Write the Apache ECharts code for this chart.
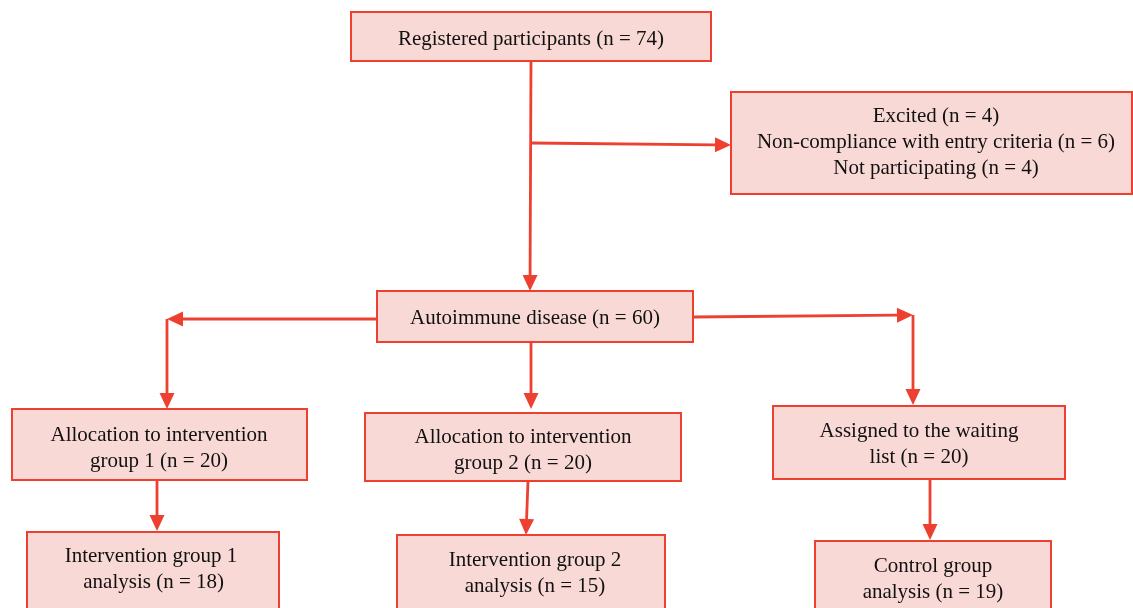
<!DOCTYPE html>
<html>
<head>
<meta charset="utf-8">
<script src="https://cdn.jsdelivr.net/npm/echarts@6/dist/echarts.min.js"></script>
<style>
  html, body { margin: 0; padding: 0; background: #fff; }
  #chart { width: 1133px; height: 608px; }
</style>
</head>
<body>
<div id="chart"></div>
<script>
// flow stages and counts
const stageNames = [
  'Registered participants',
  'Autoimmune disease',
  'Allocation to intervention\ngroup 1',
  'Allocation to intervention\ngroup 2',
  'Assigned to the waiting\nlist',
  'Intervention group 1\n analysis',
  'Intervention group 2\nanalysis',
  'Control group\nanalysis'
];
const stageCounts = [74, 60, 20, 20, 20, 18, 15, 19];

const exclusionReasons = ['Excited', 'Non-compliance with entry criteria', 'Not participating'];
const exclusionCounts = [4, 6, 4];

// layout (page units): box x0, y0, x1, y1, text cx, text cy
const boxLayout = [
  [351, 12, 711, 61, 531, 39],
  [377, 291, 693, 342, 535, 318],
  [12, 409, 307, 480, 159, 448],
  [365, 413, 681, 481, 523, 450],
  [773, 406, 1065, 479, 919, 444],
  [27, 532, 279, 620, 151, 569],
  [397, 535, 665, 620, 535, 573],
  [815, 541, 1051, 620, 933, 579]
];
const exclusionLayout = [731, 92, 1132, 194, 936, 142];

// connectors, each ends with an arrow
const connectors = [
  [[531, 61], [530, 291]],
  [[531, 143], [731, 145]],
  [[377, 319], [167, 319]],
  [[167, 319], [167, 409]],
  [[531, 342], [531, 409]],
  [[693, 317], [913, 315]],
  [[913, 315], [913, 405]],
  [[157, 481], [157, 531]],
  [[528, 481], [526, 535]],
  [[930, 479], [930, 540]]
];

const red = '#ee4030';
const pink = '#f9d9d5';
const font = '21px "Liberation Serif", "DejaVu Serif", serif';

const boxTexts = stageNames.map((s, i) => s + ' (n = ' + stageCounts[i] + ')');
const exclusionText = exclusionReasons.map((r, i) => r + ' (n = ' + exclusionCounts[i] + ')').join('\n');

const allBoxes = boxLayout.concat([exclusionLayout]);
const allTexts = boxTexts.concat([exclusionText]);

const chart = echarts.init(document.getElementById('chart'));

chart.setOption({
  animation: false,
  grid: { left: 0, right: 0, top: 0, bottom: 0 },
  xAxis: { type: 'value', min: 0, max: 1133, show: false },
  yAxis: { type: 'value', min: 0, max: 608, inverse: true, show: false },
  series: [
    {
      type: 'custom',
      coordinateSystem: 'cartesian2d',
      data: connectors.map((c, i) => [c[0][0], c[0][1], i]),
      renderItem: (params, api) => {
        const pts = connectors[params.dataIndex].map(p => api.coord(p));
        const a = pts[pts.length - 2];
        const b = pts[pts.length - 1];
        const ang = Math.atan2(b[1] - a[1], b[0] - a[0]);
        const len = 16, half = 7.5;
        const bx = b[0] - len * Math.cos(ang), by = b[1] - len * Math.sin(ang);
        const nx = -Math.sin(ang) * half, ny = Math.cos(ang) * half;
        const linePts = pts.slice(0, -1).concat([[bx, by]]);
        return {
          type: 'group',
          children: [
            { type: 'polyline', shape: { points: linePts }, style: { stroke: red, lineWidth: 2.8, fill: null } },
            { type: 'polygon', shape: { points: [b, [bx + nx, by + ny], [bx - nx, by - ny]] }, style: { fill: red } }
          ]
        };
      },
      z: 1
    },
    {
      type: 'custom',
      coordinateSystem: 'cartesian2d',
      data: allBoxes.map((b, i) => [b[0], b[1], i]),
      renderItem: (params, api) => {
        const b = allBoxes[params.dataIndex];
        const p0 = api.coord([b[0], b[1]]);
        const p1 = api.coord([b[2], b[3]]);
        const c = api.coord([b[4], b[5]]);
        return {
          type: 'group',
          children: [
            {
              type: 'rect',
              shape: { x: p0[0], y: p0[1], width: p1[0] - p0[0], height: p1[1] - p0[1] },
              style: { fill: pink, stroke: red, lineWidth: 2 }
            },
            {
              type: 'text',
              x: c[0], y: c[1],
              style: {
                text: allTexts[params.dataIndex],
                font: font,
                fill: '#111',
                align: 'center',
                verticalAlign: 'middle',
                lineHeight: 26
              }
            }
          ]
        };
      },
      z: 2
    }
  ]
});
</script>
</body>
</html>
